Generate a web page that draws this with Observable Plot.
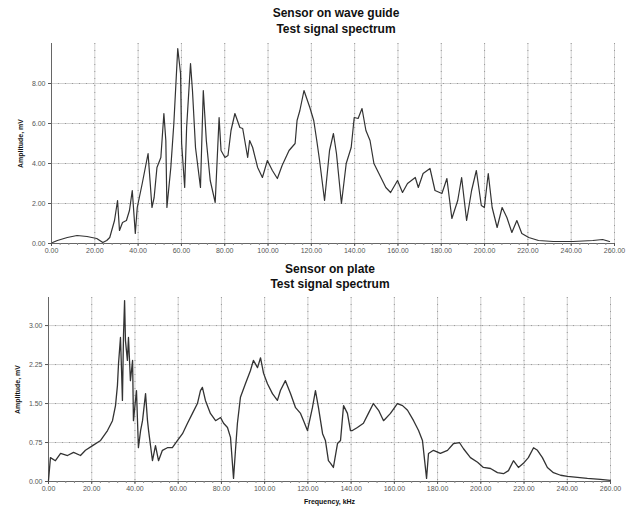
<!DOCTYPE html>
<html>
<head>
<meta charset="utf-8">
<script src="https://cdn.jsdelivr.net/npm/d3@7"></script>
<script src="https://cdn.jsdelivr.net/npm/@observablehq/plot@0.6"></script>
<style>
  body { margin: 0; background: #fff; font-family: "Liberation Sans", Arial, sans-serif; }
  #wrap { width: 626px; height: 509px; overflow: hidden; }
  .title { font-weight: bold; font-size: 12px; color: #111; text-align: center; box-sizing: border-box; width: 626px; }
  #t1 { padding-left: 46px; padding-top: 5px; line-height: 16px; height: 38px; }
  #t2 { padding-left: 34px; padding-top: 0px; line-height: 15px; height: 31px; }
  svg { display: block; }
</style>
</head>
<body>
<div id="wrap">
  <div class="title" id="t1">Sensor on wave guide<br>Test signal spectrum</div>
  <div id="p1"></div>
  <div class="title" id="t2">Sensor on plate<br>Test signal spectrum</div>
  <div id="p2"></div>
</div>
<script>
// ---- Data ----
const xTicks = [0, 20, 40, 60, 80, 100, 120, 140, 160, 180, 200, 220, 240, 260];
const topYTicks = [0, 2, 4, 6, 8];
const plateYTicks = [0, 0.75, 1.5, 2.25, 3.0];

const topFreq = [0.5, 2.7, 7.3, 11.8, 16.4, 20.9, 23.7, 25.5, 26.9, 29.1, 30.5, 31.4, 32.8, 34.6, 36.0, 37.3, 38.7, 39.6, 41.9, 44.6,
  45.5, 46.4, 47.4, 48.7, 50.5, 51.9, 52.8, 53.3, 55.1, 56.5, 58.3, 59.6, 60.1, 61.5, 62.4, 64.2, 65.1, 66.5, 68.8, 70.1,
  71.5, 73.3, 75.6, 77.4, 78.3, 80.1, 81.5, 82.9, 84.7, 87.0, 88.3, 90.6, 91.5, 92.9, 95.2, 97.4, 99.7, 102.0, 104.3, 106.5,
  109.7, 112.5, 113.4, 114.7, 116.6, 119.3, 121.1, 122.5, 123.8, 126.1, 128.4, 130.2, 131.6, 133.9, 136.1, 138.4, 139.8, 141.6, 143.4, 145.2,
  147.1, 148.9, 151.2, 154.4, 156.6, 159.8, 162.1, 164.4, 168.0, 169.4, 171.6, 174.8, 177.1, 180.3, 182.6, 184.9, 187.6, 189.4, 191.7, 194.0,
  196.2, 198.5, 199.9, 201.7, 203.5, 205.8, 208.1, 210.3, 212.6, 214.9, 217.2, 220.4, 224.9, 231.7, 240.9, 250.0, 254.5, 257.7];
const topAmp = [0.05, 0.15, 0.3, 0.4, 0.35, 0.25, 0.05, 0.15, 0.3, 1.15, 2.15, 0.65, 1.05, 1.15, 1.65, 2.65, 0.5, 1.8, 3.0, 4.5,
  3.15, 1.8, 2.3, 3.8, 4.3, 6.5, 5.15, 1.8, 3.8, 6.0, 9.75, 8.5, 5.0, 2.8, 5.8, 9.0, 7.65, 4.8, 2.8, 7.65,
  5.15, 3.15, 2.05, 6.3, 4.65, 4.3, 4.4, 5.65, 6.5, 5.8, 5.75, 4.3, 5.15, 4.8, 3.8, 3.3, 4.15, 3.65, 3.25, 3.9,
  4.65, 5.0, 6.15, 6.65, 7.65, 6.8, 6.15, 5.15, 4.15, 2.15, 4.65, 5.5, 4.5, 2.0, 4.0, 4.8, 6.3, 6.25, 6.75, 5.65,
  5.15, 4.0, 3.5, 2.8, 2.55, 3.15, 2.55, 3.0, 3.3, 2.8, 3.5, 3.75, 2.65, 2.5, 3.25, 1.25, 2.15, 3.3, 1.15, 2.65,
  3.65, 1.9, 1.8, 3.5, 1.8, 0.8, 1.8, 1.3, 0.55, 1.15, 0.5, 0.3, 0.15, 0.1, 0.1, 0.15, 0.2, 0.1];

const plateFreq = [0, 0.9, 3.2, 5.6, 8.8, 11.6, 14.8, 17.1, 20.4, 24.1, 27.3, 29.6, 31.0, 31.9, 32.4, 33.3, 33.8, 34.2, 34.7, 35.2,
  35.6, 36.5, 37.0, 37.9, 38.9, 39.3, 40.7, 41.6, 42.6, 43.5, 44.9, 45.8, 46.3, 48.1, 49.5, 50.9, 52.7, 55.0, 57.3, 59.7,
  62.0, 64.3, 66.6, 68.9, 70.3, 71.2, 72.6, 74.9, 77.3, 79.6, 81.0, 82.8, 84.2, 85.6, 86.5, 87.4, 88.8, 91.1, 93.4, 94.8,
  96.7, 98.1, 99.5, 101.3, 103.6, 105.9, 107.3, 109.6, 112.0, 114.3, 116.6, 118.0, 119.8, 122.1, 123.5, 124.9, 126.8, 128.1, 129.5, 130.5,
  131.8, 133.7, 135.1, 136.5, 138.3, 139.7, 140.6, 142.9, 145.7, 148.0, 150.3, 152.7, 155.0, 158.2, 161.4, 163.8, 166.1, 168.9, 171.2, 173.0,
  174.9, 175.8, 178.1, 181.3, 184.6, 187.4, 190.1, 192.0, 195.2, 198.5, 201.2, 204.5, 207.7, 210.5, 212.8, 215.1, 217.4, 219.7, 222.0, 224.4,
  226.2, 228.5, 230.8, 233.6, 236.9, 240.1, 244.7, 249.3, 255.3, 259.9];
const plateAmp = [0.02, 0.46, 0.40, 0.54, 0.50, 0.56, 0.50, 0.60, 0.69, 0.79, 0.98, 1.17, 1.46, 1.85, 2.27, 2.77, 2.13, 1.56, 2.81, 3.48,
  2.71, 2.33, 2.77, 1.94, 2.33, 1.17, 1.75, 0.65, 0.98, 1.17, 1.69, 1.17, 0.98, 0.40, 0.69, 0.40, 0.60, 0.65, 0.65, 0.79,
  0.92, 1.12, 1.31, 1.50, 1.75, 1.81, 1.56, 1.31, 1.17, 1.23, 1.12, 1.04, 0.85, 0.06, 0.60, 1.12, 1.62, 1.88, 2.13, 2.33,
  2.19, 2.38, 2.08, 1.88, 1.69, 1.56, 1.75, 1.94, 1.69, 1.42, 1.31, 1.17, 0.98, 1.42, 1.75, 1.42, 0.92, 0.79, 0.40, 0.35,
  0.27, 0.73, 0.79, 1.46, 1.31, 0.98, 0.98, 1.04, 1.12, 1.31, 1.50, 1.37, 1.17, 1.31, 1.50, 1.46, 1.37, 1.17, 0.98, 0.79,
  0.06, 0.54, 0.60, 0.54, 0.60, 0.73, 0.75, 0.63, 0.46, 0.37, 0.27, 0.25, 0.17, 0.15, 0.21, 0.40, 0.27, 0.35, 0.46, 0.65,
  0.60, 0.46, 0.27, 0.17, 0.12, 0.10, 0.08, 0.06, 0.04, 0.02];

const topData = topFreq.map((f, i) => ({f, a: topAmp[i]}));
const plateData = plateFreq.map((f, i) => ({f, a: plateAmp[i]}));
const minorX = d3.range(0, 261, 4);

function chart({data, yTicks, yMax, height, mt, mb, ml, mr, xLabel, sw}) {
  return Plot.plot({
    width: 626,
    height,
    marginTop: mt,
    marginBottom: mb,
    marginLeft: ml,
    marginRight: mr,
    style: {fontFamily: "'Liberation Sans', Arial, sans-serif", fontSize: "7px", color: "#555", background: "#fff"},
    x: {domain: [0, 260]},
    y: {domain: [0, yMax]},
    marks: [
      Plot.ruleX(xTicks, {stroke: "#d2d2d2", strokeWidth: 1}),
      Plot.ruleY(yTicks, {stroke: "#d2d2d2", strokeWidth: 1}),
      Plot.ruleX(xTicks, {stroke: "#999", strokeWidth: 1, strokeDasharray: "1,6"}),
      Plot.ruleY(yTicks, {stroke: "#999", strokeWidth: 1, strokeDasharray: "1,6"}),
      Plot.ruleX([0], {stroke: "#666", strokeWidth: 1}),
      Plot.ruleY([0], {stroke: "#666", strokeWidth: 1.2}),
      Plot.axisX({ticks: minorX, tickSize: 2, tickFormat: () => "", label: null, stroke: "#888"}),
      Plot.axisX({ticks: xTicks, tickFormat: d3.format(".2f"), tickSize: 3, tickPadding: 2,
        label: xLabel, labelAnchor: "center", labelArrow: "none", labelOffset: 22}),
      Plot.axisY({ticks: yTicks, tickFormat: d3.format(".2f"), tickSize: 3, tickPadding: 3,
        label: "Amplitude, mV", labelAnchor: "center", labelArrow: "none", labelOffset: 33}),
      Plot.line(data, {x: "f", y: "a", stroke: "#333", strokeWidth: sw, strokeLinejoin: "round"})
    ]
  });
}

const p1 = chart({data: topData, yTicks: topYTicks, yMax: 10, height: 224, mt: 5, mb: 19, ml: 51, mr: 12,
  xLabel: null, sw: 1.2});
const p2 = chart({data: plateData, yTicks: plateYTicks, yMax: 3.54, height: 216, mt: 4, mb: 28, ml: 48, mr: 16,
  xLabel: "Frequency, kHz", sw: 1.3});

for (const p of [p1, p2]) {
  p.querySelectorAll("g[aria-label='y-axis label'] text, g[aria-label='x-axis label'] text").forEach(t => {
    t.setAttribute("font-weight", "bold"); t.setAttribute("fill", "#111");
  });
}
document.getElementById("p1").appendChild(p1);
document.getElementById("p2").appendChild(p2);
</script>
</body>
</html>
